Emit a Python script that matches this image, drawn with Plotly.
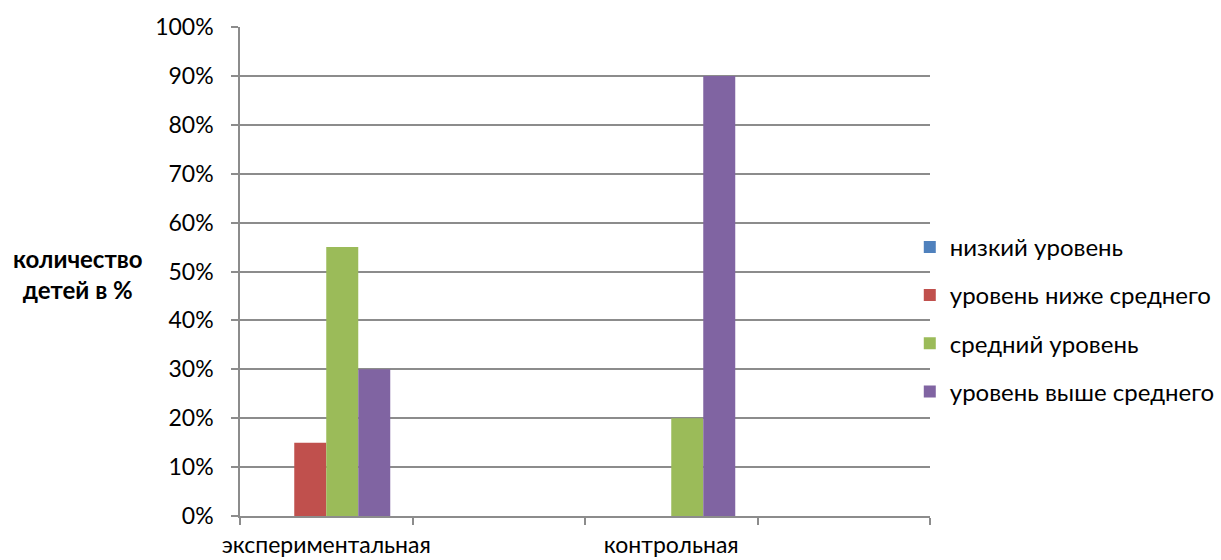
import plotly.graph_objects as go

# Groups along the x axis (two of the slots are empty spacers)
groups = ["экспериментальная", " ", "контрольная", "  "]

# Share of children per level, %
series_names = ["низкий уровень", "уровень ниже среднего", "средний уровень", "уровень выше среднего"]
low_level = [0, None, 0, None]
below_avg = [15, None, 0, None]
average = [55, None, 20, None]
above_avg = [30, None, 90, None]

colors = ["#4F81BD", "#C0504D", "#9BBB59", "#8064A2"]
y_ticks = list(range(0, 101, 10))
y_title = "количество<br>детей в %"

FONT = "Lato"
GRID = "#8c8c8c"

fig = go.Figure()
for i, (name, vals) in enumerate(zip(series_names, [low_level, below_avg, average, above_avg])):
    fig.add_trace(go.Bar(
        x=groups, y=vals, name=name,
        marker=dict(color=colors[i], line=dict(width=0)),
        legendgroup=f"g{i}",
    ))

fig.update_layout(
    width=1221, height=560, autosize=False,
    margin=dict(l=240, r=291, t=27, b=44, autoexpand=False),
    paper_bgcolor="white", plot_bgcolor="white",
    barmode="group", bargap=0.258, bargroupgap=0,
    font=dict(family=FONT, size=23, color="#000000"),
    showlegend=True,
    legend=dict(
        x=0.9707, xanchor="left", y=(515.7 - 319) / 489, yanchor="middle",
        font=dict(family=FONT, size=24, color="#000000"),
        itemwidth=30, tracegroupgap=14,
        bgcolor="rgba(0,0,0,0)",
    ),
    xaxis=dict(
        type="category", categoryorder="array", categoryarray=groups,
        tickson="boundaries", ticks="outside", ticklen=7, tickwidth=1.5, tickcolor=GRID,
        showline=True, linecolor=GRID, linewidth=1.5, showgrid=False,
        tickangle=0, automargin=False,
        tickfont=dict(family=FONT, size=23, color="#000000"),
        ticklabelstandoff=8,
    ),
    yaxis=dict(
        range=[0, 100], tickvals=y_ticks, ticktext=[f"{v}%" for v in y_ticks],
        ticks="outside", ticklen=7, tickwidth=1.5, tickcolor=GRID,
        showline=True, linecolor=GRID, linewidth=1.5, automargin=False,
        showgrid=True, gridcolor=GRID, gridwidth=1.5, zeroline=False,
        tickfont=dict(family=FONT, size=23, color="#000000"),
        ticklabelstandoff=13,
    ),
)

fig.add_annotation(
    text=y_title, xref="paper", yref="paper",
    x=(78 - 240) / 690, y=(515.7 - 274) / 489, xanchor="center", yanchor="middle",
    showarrow=False, align="center",
    font=dict(family=FONT, size=24, color="#000000", weight="bold"),
)

fig.write_html("out.html")
